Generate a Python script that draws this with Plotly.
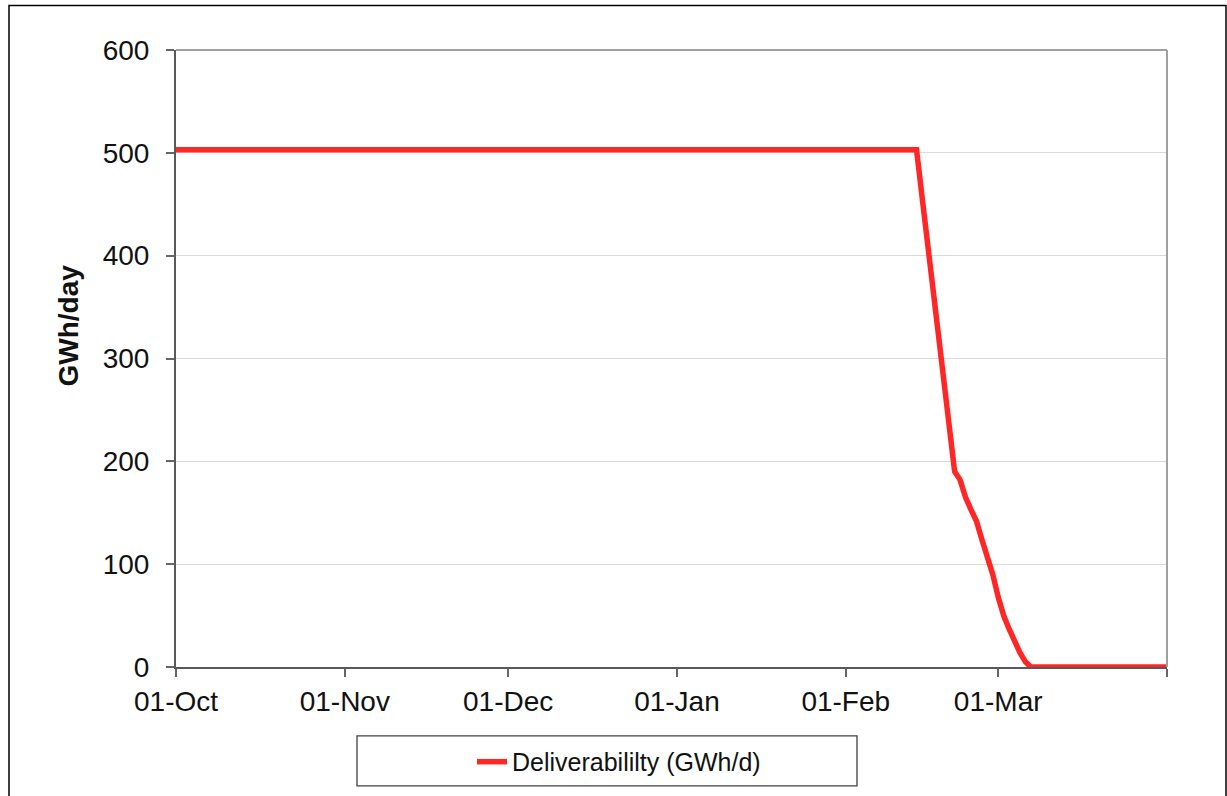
import plotly.graph_objects as go

# ---- data ----
dates = [
    "2010-10-01", "2011-02-14", "2011-02-15", "2011-02-16", "2011-02-17",
    "2011-02-18", "2011-02-19", "2011-02-20", "2011-02-21", "2011-02-22",
    "2011-02-23", "2011-02-24", "2011-02-25", "2011-02-26", "2011-02-27",
    "2011-02-28", "2011-03-01", "2011-03-02", "2011-03-03", "2011-03-04",
    "2011-03-05", "2011-03-06", "2011-03-07", "2011-04-01",
]
deliverability = [
    503, 503, 458, 414, 370,
    325, 280, 235, 190, 182,
    165, 153, 142, 124, 107,
    90, 68, 50, 37, 24,
    14, 5, 0, 0,
]
series_name = "Deliverabililty (GWh/d)"
x_tick_vals = ["2010-10-01", "2010-11-01", "2010-12-01", "2011-01-01",
               "2011-02-01", "2011-03-01", "2011-04-01"]
x_tick_text = ["01-Oct", "01-Nov", "01-Dec", "01-Jan", "01-Feb", "01-Mar", ""]
y_title = "GWh/day"

FONT = "Liberation Sans, Arial, sans-serif"

fig = go.Figure()
fig.add_trace(go.Scatter(
    x=dates, y=deliverability, mode="lines", name=series_name,
    line=dict(color="#FF2626", width=5.5),
))

fig.update_layout(
    width=1227, height=796,
    margin=dict(l=176, r=60, t=50, b=128),
    paper_bgcolor="white", plot_bgcolor="white",
    font=dict(family=FONT, size=28, color="#111111"),
    showlegend=True,
    legend=dict(
        x=0.447, y=-0.152, xanchor="center", yanchor="middle",
        font=dict(family=FONT, size=25, color="#111111"),
        bgcolor="rgba(0,0,0,0)", borderwidth=0,
    ),
    xaxis=dict(
        type="date", range=["2010-10-01", "2011-04-01"],
        tickvals=x_tick_vals, ticktext=x_tick_text,
        ticks="outside", ticklen=8, tickwidth=1.5, tickcolor="#666666",
        showline=True, linecolor="#595959", linewidth=2,
        showgrid=False, zeroline=False,
        tickfont=dict(size=28), ticklabelstandoff=0,
    ),
    yaxis=dict(
        range=[0, 600], dtick=100,
        ticks="outside", ticklen=8, tickwidth=1.5, tickcolor="#666666",
        showline=True, linecolor="#595959", linewidth=2,
        gridcolor="#D9D9D9", gridwidth=1.3, zeroline=False,
        tickfont=dict(size=28), ticklabelstandoff=11,
    ),
    shapes=[
        # outer chart frame
        dict(type="rect", xref="paper", yref="paper",
             x0=(9 - 176) / 991, x1=(1226 - 176) / 991,
             y0=(668 - 820) / 618, y1=(668 - 5.5) / 618,
             line=dict(color="#000000", width=1.5), layer="below"),
        # plot-area top/right border
        dict(type="line", xref="x domain", yref="y domain",
             x0=0, x1=1, y0=1, y1=1, line=dict(color="#A0A0A0", width=2)),
        dict(type="line", xref="x domain", yref="y domain",
             x0=1, x1=1, y0=0, y1=1, line=dict(color="#A0A0A0", width=2)),
        # legend box
        dict(type="rect", xref="paper", yref="paper",
             x0=(357 - 176) / 991, x1=(857 - 176) / 991,
             y0=(668 - 787) / 618, y1=(668 - 737) / 618,
             line=dict(color="#404040", width=1.3)),
    ],
    annotations=[
        dict(text="<b>" + y_title + "</b>", textangle=-90,
             xref="paper", yref="paper",
             x=(69 - 176) / 991, y=(668 - 326) / 618,
             xanchor="center", yanchor="middle", showarrow=False,
             font=dict(family=FONT, size=28, color="#111111")),
    ],
)

fig.write_html("out.html",
               config={"displayModeBar": False},
               post_script="document.body.style.margin='0';document.body.style.overflow='hidden';")
